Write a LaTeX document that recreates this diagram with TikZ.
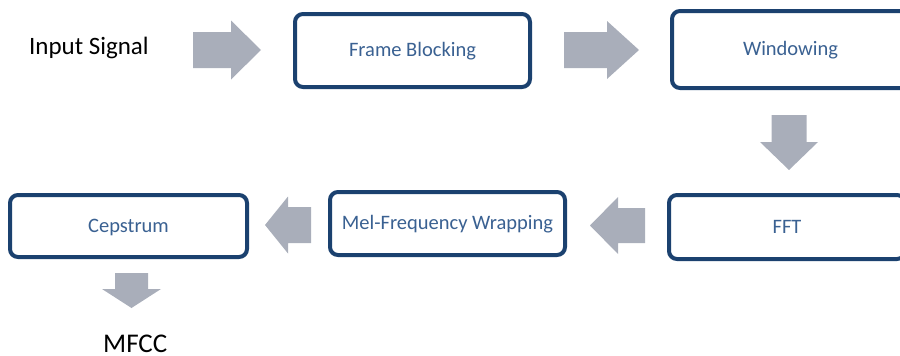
\documentclass[tikz,border=0pt]{standalone}
\usepackage{fontspec}
\setmainfont{Carlito}
\usetikzlibrary{calc}

\definecolor{boxline}{HTML}{1B416F}
\definecolor{boxtext}{HTML}{3A6192}
\definecolor{arrowfill}{HTML}{A9AEBA}

% Block arrow: #1 centre, #2 direction, #3 length,
% #4 half shaft width, #5 half head width, #6 head length
\newcommand{\flowarrow}[6]{%
  \fill[arrowfill, shift={#1}, rotate=#2]
    ({-#3/2},{-#4}) -- ({#3/2-#6},{-#4}) -- ({#3/2-#6},{-#5}) -- ({#3/2},0)
    -- ({#3/2-#6},{#5}) -- ({#3/2-#6},{#4}) -- ({-#3/2},{#4}) -- cycle;}

\begin{document}
\begin{tikzpicture}[x=1pt, y=-1pt,
  stagebox/.style={draw=boxline, line width=4pt, rounded corners=8pt, fill=white,
    inner sep=0pt, text=boxtext, font=\fontsize{20.5}{24}\selectfont,
    text height=13pt, text depth=1pt},
  plaintext/.style={inner sep=0pt, anchor=base west}]

\useasboundingbox (0,0) rectangle (900,356);
\clip (0,0) rectangle (900,356);

% stages
\node[plaintext, font=\fontsize{25}{30}\selectfont] (inp) at (29,54) {Input Signal};
\node[stagebox, minimum width=235pt, minimum height=73pt] (fb)  at (412.5,50.5) {Frame Blocking};
\node[stagebox, minimum width=237pt, minimum height=77pt] (win) at (790.5,49.5) {Windowing};
\node[stagebox, minimum width=236pt, minimum height=64pt] (fft) at (787,227) {FFT};
\node[stagebox, minimum width=235pt, minimum height=63pt] (mel) at (447.5,223.5) {Mel-Frequency Wrapping};
\node[stagebox, minimum width=237pt, minimum height=62pt] (cep) at (128.5,226) {Cepstrum};
\node[plaintext, font=\fontsize{27}{32}\selectfont, text depth=0pt] (mfcc) at (103,352) {MFCC};

% arrow centres, placed from the stages they join
\coordinate (a1) at ($(fb.west)+(-66,-0.5)$);
\coordinate (a2) at ($(fb.east)+(69.5,-0.5)$);
\coordinate (a3) at ($(win.south)+(-1.5,52.5)$);
\coordinate (a4) at ($(fft.west)+(-49.5,-1.5)$);
\coordinate (a5) at ($(mel.west)+(-40,1.5)$);
\coordinate (a6) at ($(cep.south)+(3,31.5)$);

\flowarrow{(a1)}{0}{68}{18}{29.5}{30}
\flowarrow{(a2)}{0}{75}{18}{29}{32}
\flowarrow{(a3)}{-90}{55}{17.5}{29}{28}
\flowarrow{(a4)}{180}{55}{17.5}{28.5}{28}
\flowarrow{(a5)}{180}{46}{18}{28.5}{23}
\flowarrow{(a6)}{-90}{35}{16.5}{29.5}{19}
\end{tikzpicture}
\end{document}
